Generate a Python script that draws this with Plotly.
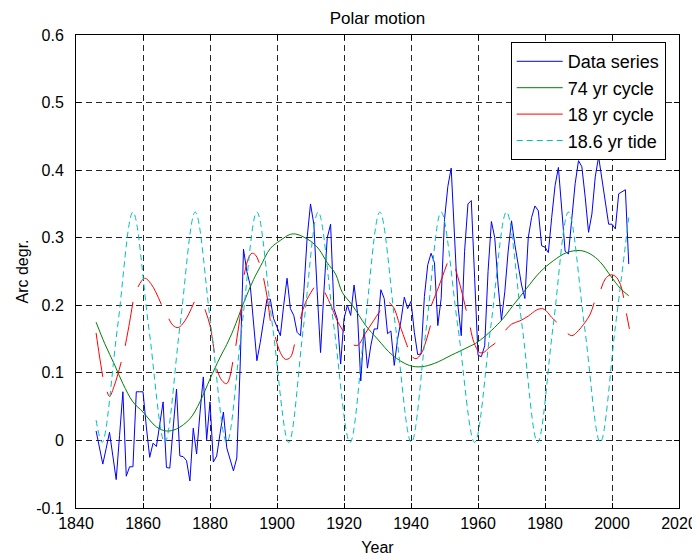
import plotly.graph_objects as go

# ---------------- data ----------------
data_years = list(range(1846, 2006))
data_values = [
    0.014, -0.010, -0.035, -0.012, 0.012, -0.023, -0.058, 0.007, 0.072, -0.053,   # 1846-1855
    -0.039, -0.039, 0.072, 0.072, 0.072, 0.020, -0.025, -0.004, -0.009, 0.024,     # 1856-1865
    0.057, -0.040, -0.041, 0.018, 0.076, -0.023, -0.024, -0.030, -0.060, 0.018,    # 1866-1875
    -0.020, 0.040, 0.094, 0.001, 0.057, -0.032, -0.023, 0.010, 0.042, -0.011,      # 1876-1885
    -0.028, -0.045, -0.026, 0.110, 0.283, 0.250, 0.230, 0.175, 0.118, 0.145,       # 1886-1895
    0.180, 0.209, 0.209, 0.180, 0.168, 0.155, 0.200, 0.240, 0.195, 0.185,          # 1896-1905
    0.160, 0.155, 0.220, 0.300, 0.350, 0.320, 0.220, 0.130, 0.220, 0.300,          # 1906-1915
    0.320, 0.195, 0.180, 0.113, 0.180, 0.200, 0.185, 0.230, 0.190, 0.088,          # 1916-1925
    0.165, 0.107, 0.140, 0.165, 0.165, 0.223, 0.210, 0.158, 0.162, 0.111,          # 1926-1935
    0.150, 0.177, 0.212, 0.195, 0.206, 0.160, 0.127, 0.128, 0.213, 0.260,          # 1936-1945
    0.277, 0.263, 0.170, 0.210, 0.327, 0.376, 0.403, 0.300, 0.200, 0.155,          # 1946-1955
    0.280, 0.350, 0.355, 0.240, 0.126, 0.124, 0.140, 0.250, 0.324, 0.300,          # 1956-1965
    0.230, 0.178, 0.220, 0.280, 0.325, 0.290, 0.260, 0.230, 0.210, 0.300,          # 1966-1975
    0.330, 0.347, 0.340, 0.288, 0.286, 0.278, 0.330, 0.377, 0.404, 0.340,          # 1976-1985
    0.280, 0.276, 0.330, 0.380, 0.414, 0.405, 0.360, 0.308, 0.335, 0.390,          # 1986-1995
    0.420, 0.387, 0.350, 0.320, 0.320, 0.313, 0.365, 0.368, 0.371, 0.261,          # 1996-2005
]

cycle74_years = [1846, 1848.6, 1851.6, 1854, 1857, 1860, 1864, 1867, 1870, 1874,
                 1877, 1880, 1883, 1885, 1887, 1890, 1893, 1895, 1898, 1901,
                 1904, 1906, 1910, 1912.5, 1915, 1917.5, 1919.5, 1922.5, 1926.5, 1930,
                 1934.5, 1939.5, 1943, 1947, 1952, 1957, 1960, 1966.5, 1970.5, 1974.5,
                 1978.5, 1982.5, 1986.5, 1990.5, 1993.5, 1996.5, 1999.5, 2002.5, 2005]
cycle74_values = [0.175, 0.143, 0.111, 0.084, 0.057, 0.042, 0.020, 0.014, 0.017, 0.032,
                  0.057, 0.091, 0.123, 0.142, 0.164, 0.203, 0.238, 0.257, 0.284, 0.296,
                  0.305, 0.305, 0.295, 0.283, 0.263, 0.246, 0.219, 0.200, 0.170, 0.150,
                  0.126, 0.111, 0.109, 0.114, 0.126, 0.138, 0.146, 0.175, 0.200, 0.225,
                  0.249, 0.266, 0.278, 0.281, 0.276, 0.264, 0.244, 0.225, 0.214]

# 18 yr cycle: drawn in separate pieces (None = break)
cycle18_years = [1846, 1847, 1848, None,
                 1849.3, 1850, 1851.5, 1853.5, None,
                 1854.7, 1856, 1857, None,
                 1858.5, 1860.5, 1862.5, 1865.5, None,
                 1867.7, 1869, 1870.5, 1872.5, 1875.3, None,
                 1878.5, 1880, 1881.3, None,
                 1882, 1883.5, 1885, 1886.8, None,
                 1887.7, 1889.5, None,
                 1890.2, 1891.5, 1892.5, 1893.5, 1894.7, None,
                 1896, 1897, 1898, None,
                 1899.5, 1901, 1902.5, 1904, 1905.2, None,
                 1907, 1908.5, 1911, None,
                 1914.3, 1916, 1918, 1920, None,
                 1922.9, 1924.2, 1926.3, 1928.8, 1930.8, None,
                 1933.5, 1934.8, 1936.7, 1939, None,
                 1940.5, 1941.5, 1943, 1945.8, None,
                 1946, 1948.3, 1950.8, None,
                 1953.3, 1955, 1956.5, None,
                 1957.7, 1958.8, 1960.5, 1962, 1963, 1965.2, None,
                 1968.2, 1970, 1972.5, 1975, 1977.5, 1979.3, 1980.3, 1982, 1983.5, None,
                 1986.8, 1988, 1989.5, 1992, 1993.5, 1994.7, None,
                 1996.7, 1998, 1999.5, 2001, 2002.5, 2003.5, None,
                 2004.3, 2005.2]
cycle18_values = [0.159, 0.125, 0.094, None,
                  0.072, 0.065, 0.082, 0.116, None,
                  0.140, 0.175, 0.205, None,
                  0.227, 0.240, 0.231, 0.201, None,
                  0.180, 0.170, 0.167, 0.177, 0.205, None,
                  0.194, 0.170, 0.130, None,
                  0.106, 0.089, 0.084, 0.116, None,
                  0.140, 0.200, None,
                  0.245, 0.270, 0.277, 0.275, 0.263, None,
                  0.240, 0.214, 0.177, None,
                  0.153, 0.130, 0.120, 0.123, 0.142, None,
                  0.180, 0.204, 0.226, None,
                  0.219, 0.201, 0.177, 0.160, None,
                  0.141, 0.141, 0.158, 0.177, 0.192, None,
                  0.204, 0.197, 0.170, 0.138, None,
                  0.123, 0.121, 0.128, 0.170, None,
                  0.199, 0.228, 0.262, None,
                  0.254, 0.223, 0.192, None,
                  0.167, 0.145, 0.130, 0.131, 0.136, 0.144, None,
                  0.163, 0.172, 0.177, 0.184, 0.193, 0.195, 0.192, 0.182, 0.175, None,
                  0.158, 0.155, 0.160, 0.175, 0.187, 0.204, None,
                  0.224, 0.239, 0.245, 0.243, 0.231, 0.211, None,
                  0.188, 0.165]

tide_years = [1846, 1847.8, 1852.4, 1857, 1861.7, 1866.5, 1871, 1875.6, 1880.3, 1885,
              1889.5, 1894, 1898.7, 1903.5, 1907.9, 1912.3, 1917, 1921.8, 1926.2, 1930.7,
              1935.4, 1940.1, 1944.6, 1949, 1954, 1959, 1963.8, 1968.5, 1973.2, 1977.8,
              1982.4, 1987, 1991.8, 1996.5, 2001, 2005]
tide_values = [0.030, -0.003, 0.168, 0.338, 0.168, -0.003, 0.168, 0.338, 0.168, -0.003,
               0.168, 0.338, 0.168, -0.003, 0.168, 0.338, 0.168, -0.003, 0.168, 0.338,
               0.168, -0.003, 0.168, 0.338, 0.168, -0.003, 0.168, 0.338, 0.168, -0.003,
               0.168, 0.338, 0.168, -0.003, 0.168, 0.330]

x_ticks = [1840, 1860, 1880, 1900, 1920, 1940, 1960, 1980, 2000, 2020]
y_ticks = [-0.1, 0, 0.1, 0.2, 0.3, 0.4, 0.5, 0.6]
y_tick_labels = ["-0.1", "0", "0.1", "0.2", "0.3", "0.4", "0.5", "0.6"]

FONT = "Liberation Sans, Arial, Helvetica, sans-serif"

# the page body adds an 8px offset, so the figure margins are set relative to that
W, H = 700, 560
PLOT_L, PLOT_R, PLOT_T, PLOT_B = 68, 671, 27, 500   # figure pixel coords of the axes box

fig = go.Figure()
fig.add_trace(go.Scatter(x=data_years, y=data_values, mode="lines", name="Data series",
                         line=dict(color="#0000FF", width=1)))
fig.add_trace(go.Scatter(x=cycle74_years, y=cycle74_values, mode="lines", name="74 yr cycle",
                         line=dict(color="#008000", width=1, shape="spline")))
fig.add_trace(go.Scatter(x=cycle18_years, y=cycle18_values, mode="lines", name="18 yr cycle",
                         line=dict(color="#FF0000", width=1, shape="spline"),
                         connectgaps=False))
fig.add_trace(go.Scatter(x=tide_years, y=tide_values, mode="lines", name="18.6 yr tide",
                         line=dict(color="#00BFBF", width=1, shape="spline", dash="6px,4px")))

axis_common = dict(
    showline=True, linecolor="black", linewidth=1, mirror="ticks",
    ticks="inside", ticklen=5, tickcolor="black", automargin=False,
    showgrid=True, gridcolor="rgba(0,0,0,0.85)", gridwidth=1, griddash="6px,4px",
    zeroline=False, tickfont=dict(family=FONT, size=16, color="black"),
)

fig.update_layout(
    width=W, height=H,
    paper_bgcolor="white", plot_bgcolor="white",
    margin=dict(l=PLOT_L, r=W - PLOT_R, t=PLOT_T, b=H - PLOT_B, autoexpand=False),
    font=dict(family=FONT, size=16, color="black"),
    title=dict(text="Polar motion", x=(PLOT_L + PLOT_R) / 2 / W, xanchor="center",
               y=1 - 10 / H, yanchor="middle", font=dict(size=17)),
    xaxis=dict(range=[1840, 2020], tickvals=x_ticks, ticklabelstandoff=1,
               title=dict(text="Year", standoff=10, font=dict(size=16)), **axis_common),
    yaxis=dict(range=[-0.1, 0.6], tickvals=y_ticks, ticktext=y_tick_labels,
               ticklabelstandoff=8,
               title=dict(text="Arc degr.", standoff=3, font=dict(size=16)), **axis_common),
    legend=dict(x=0.978, xanchor="right", y=0.985, yanchor="top",
                bgcolor="white", bordercolor="black", borderwidth=1,
                font=dict(family=FONT, size=18), tracegroupgap=0, itemwidth=46),
    showlegend=True,
)

fig.write_html("out.html")
